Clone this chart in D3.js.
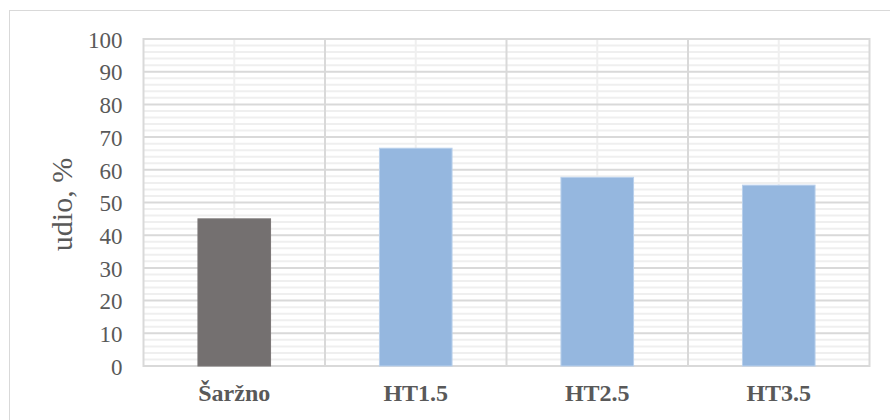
<!DOCTYPE html>
<html><head><meta charset="utf-8">
<script src="https://cdn.jsdelivr.net/npm/d3@7"></script>
<style>body{margin:0;background:#fff;} svg{display:block;}</style>
</head><body>
<script>
const categories = ["Šaržno", "HT1.5", "HT2.5", "HT3.5"];
const values = [45.0, 66.6, 57.7, 55.3];
const barColors = ["#747070", "#95b7df", "#95b7df", "#95b7df"];
const yTicks = [0,10,20,30,40,50,60,70,80,90,100];
const minorTicks = d3.range(0, 101, 2).filter(v => v % 10 !== 0);
const yLabel = "udio, %";

const W = 890, H = 420;
const m = {left: 143.5, right: 890 - 869.5, top: 39, bottom: 420 - 366};
const svg = d3.select("body").append("svg").attr("width", W).attr("height", H);
const serif = "'Liberation Serif', 'Times New Roman', serif";

// outer chart border
svg.append("rect").attr("x", 9.5).attr("y", 10.5).attr("width", 900).attr("height", 430)
  .attr("fill", "none").attr("stroke", "#d9d9d9").attr("stroke-width", 1);

const x = d3.scaleBand().domain(categories).range([m.left, W - m.right]).paddingInner(0).paddingOuter(0);
const y = d3.scaleLinear().domain([0, 100]).range([H - m.bottom, m.top]);
const g = svg.append("g");

// minor horizontal gridlines
g.selectAll(".minor").data(minorTicks).join("line")
  .attr("x1", m.left).attr("x2", W - m.right)
  .attr("y1", d => y(d)).attr("y2", d => y(d))
  .attr("stroke", "#efefef").attr("stroke-width", 2);
// minor vertical gridlines at category centres
g.selectAll(".vminor").data(categories).join("line")
  .attr("x1", d => x(d) + x.bandwidth()/2).attr("x2", d => x(d) + x.bandwidth()/2)
  .attr("y1", y(100)).attr("y2", y(0))
  .attr("stroke", "#efefef").attr("stroke-width", 2);
// major horizontal gridlines
g.selectAll(".major").data(yTicks).join("line")
  .attr("x1", m.left).attr("x2", W - m.right)
  .attr("y1", d => y(d)).attr("y2", d => y(d))
  .attr("stroke", "#d9d9d9").attr("stroke-width", 2);
// major vertical gridlines at category boundaries
const bounds = categories.map(c => x(c)).concat([x(categories[categories.length-1]) + x.bandwidth()]);
g.selectAll(".vmajor").data(bounds).join("line")
  .attr("x1", d => d).attr("x2", d => d)
  .attr("y1", y(100) - 1).attr("y2", y(0) + 1)
  .attr("stroke", "#d9d9d9").attr("stroke-width", 2);

// bars
const bw = x.bandwidth() * 0.4;
g.selectAll(".bar").data(values).join("rect")
  .attr("x", (d, i) => x(categories[i]) + x.bandwidth()/2 - bw/2)
  .attr("y", d => y(d))
  .attr("width", bw)
  .attr("height", d => y(0) - y(d))
  .attr("fill", (d, i) => barColors[i])
  .attr("stroke", (d, i) => i === 0 ? "#7a7676" : "#b9d0ec")
  .attr("stroke-width", 1);

// y axis labels
const yAxis = d3.axisLeft(y).tickValues(yTicks).tickSize(0).tickPadding(21);
const ya = svg.append("g").attr("transform", `translate(${m.left},0)`).call(yAxis);
ya.select(".domain").remove();
ya.selectAll("text").attr("font-family", serif)
  .attr("font-size", 23).attr("fill", "#595959").attr("dy", "0.36em");

// x axis labels
const xAxis = d3.axisBottom(x).tickSize(0).tickPadding(18);
const xa = svg.append("g").attr("transform", `translate(0,${y(0)})`).call(xAxis);
xa.select(".domain").remove();
xa.selectAll("text").attr("font-family", serif)
  .attr("font-size", 24).attr("font-weight", "bold").attr("fill", "#595959");

// y axis title
svg.append("text").attr("transform", `translate(72,${(y(0)+y(100))/2 + 2}) rotate(-90)`)
  .attr("text-anchor", "middle")
  .attr("font-family", serif)
  .attr("font-size", 30).attr("fill", "#595959").text(yLabel);
</script>
</body></html>
